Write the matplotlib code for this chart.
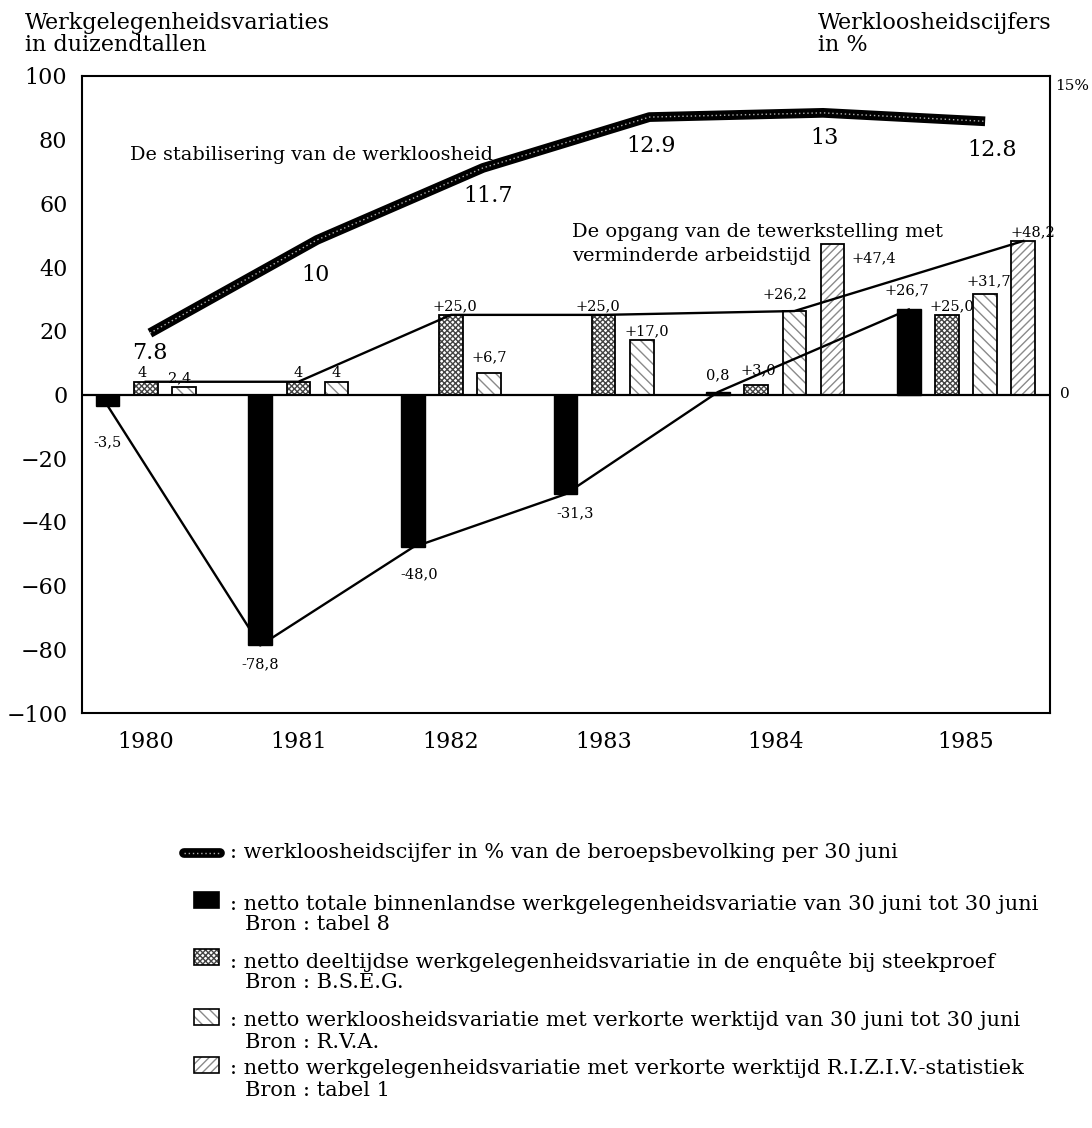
import matplotlib
matplotlib.use('Agg')
import matplotlib.pyplot as plt
import numpy as np
from matplotlib.patches import Rectangle
from matplotlib.lines import Line2D
import matplotlib.transforms as mtransforms

plt.rcParams['font.family'] = ['DejaVu Serif', 'Liberation Serif']
plt.rcParams['hatch.linewidth'] = 1.0

# ---------------- data ----------------
years = ['1980', '1981', '1982', '1983', '1984', '1985']
total_var = [-3.5, -78.8, -48.0, -31.3, 0.8, 26.7]          # netto totale binnenlandse
parttime_var = [4.0, 4.0, 25.0, 25.0, 3.0, 25.0]            # B.S.E.G.
rva_var = [2.4, 4.0, 6.7, 17.0, 26.2, 31.7]                 # R.V.A.
riziv_var = [np.nan, np.nan, np.nan, np.nan, 47.4, 48.2]    # R.I.Z.I.V.
unemployment = [7.8, 10.0, 11.7, 12.9, 13.0, 12.8]          # %

total_lbl = ['-3,5', '-78,8', '-48,0', '-31,3', '0,8', '+26,7']
parttime_lbl = ['4', '4', '+25,0', '+25,0', '+3,0', '+25,0']
rva_lbl = ['2,4', '4', '+6,7', '+17,0', '+26,2', '+31,7']
riziv_lbl = ['', '', '', '', '+47,4', '+48,2']
unemp_lbl = ['7.8', '10', '11.7', '12.9', '13', '12.8']
yticks = [100, 80, 60, 40, 20, 0, -20, -40, -60, -80, -100]

# ---------------- layout ----------------
W, H = 1092, 1128
group_start = np.array([0, 4, 8, 12, 16, 21], dtype=float)
bw = 0.62
x_tot = group_start
x_part = group_start + 1
x_rva = group_start + 2
x_riz = group_start + 3
nbars = np.array([3 if np.isnan(v) else 4 for v in riziv_var])
x_year = group_start + (nbars - 1) / 2.0
unemp_x = [1.11, 5.49, 9.84, 14.2, 18.75, 23.0]

fig = plt.figure(figsize=(W / 100, H / 100), dpi=100)
ax = fig.add_axes([82 / W, 1 - 713 / H, (1050 - 82) / W, (713 - 76) / H])
ax.set_xlim(-0.67, 24.7)
ax.set_ylim(-100, 100)
ax.set_yticks(yticks)
ax.set_yticklabels([str(v).replace('-', '\u2212') for v in yticks])
ax.set_xticks(x_year)
ax.set_xticklabels(years)
ax.tick_params(axis='both', length=0, labelsize=16)
ax.tick_params(axis='y', pad=10.5)
ax.tick_params(axis='x', pad=13)
for s in ax.spines.values():
    s.set_linewidth(1.5)

ax.axhline(0, color='black', lw=1.6, zorder=5)


def hatched(x, h, hatch, hcol):
    ax.bar(x, h, bw, color='white', edgecolor=hcol, hatch=hatch, lw=0, zorder=2)
    ax.bar(x, h, bw, fill=False, edgecolor='black', lw=1.3, zorder=3)


ax.bar(x_tot, total_var, bw, color='black', edgecolor='black', lw=1, zorder=3)
hatched(x_part, parttime_var, 'xxxxxx', '#444444')
hatched(x_rva, rva_var, '\\\\\\', '#8a8a8a')
hatched(x_riz, riziv_var, '////', '#8a8a8a')

# connecting lines
ax.plot(x_tot, total_var, color='black', lw=1.7, zorder=6)
l2x = list(x_part[:4]) + [x_rva[4], x_riz[5]]
l2y = list(parttime_var[:4]) + [rva_var[4], riziv_var[5]]
ax.plot(l2x, l2y, color='black', lw=1.7, zorder=6)

# bar labels (offsets in pixels)
fs_b = 10.5
tot_off = [(0, -30), (0, -12), (6, -20), (10, -12), (0, 10), (-2, 12)]
for x, v, t, o in zip(x_tot, total_var, total_lbl, tot_off):
    ax.annotate(t, (x, v), xytext=o, textcoords='offset pixels',
                ha='center', va='top' if v < 0 else 'bottom', fontsize=fs_b, zorder=7)
part_off = [(-4, 2), (0, 2), (4, 2), (-6, 2), (2, 8), (5, 2)]
for x, v, t, o in zip(x_part, parttime_var, parttime_lbl, part_off):
    ax.annotate(t, (x, v), xytext=o, textcoords='offset pixels', ha='center', va='bottom',
                fontsize=fs_b, zorder=7)
rva_off = [(-4, 2), (0, 2), (0, 9), (5, 2), (-9, 10), (4, 5)]
for x, v, t, o in zip(x_rva, rva_var, rva_lbl, rva_off):
    ax.annotate(t, (x, v), xytext=o, textcoords='offset pixels', ha='center', va='bottom',
                fontsize=fs_b, zorder=7)
riz_off = [(0, 0)] * 4 + [(41, -22), (10, 2)]
for x, v, t, o in zip(x_riz, riziv_var, riziv_lbl, riz_off):
    if t:
        ax.annotate(t, (x, v), xytext=o, textcoords='offset pixels', ha='center', va='bottom',
                    fontsize=fs_b, zorder=7)

# unemployment line on twin axis
ax2 = ax.twinx()
ax2.set_ylim(-1.17, 13.87)
ax2.set_yticks([])
for s in ax2.spines.values():
    s.set_visible(False)
ax2.plot(unemp_x, unemployment, color='black', lw=7, solid_capstyle='butt', zorder=4)
ax2.plot(unemp_x, unemployment, color='#b0b0b0', lw=1.0, ls=(0, (1, 2)), zorder=5)
un_off = [(0, -20), (-2, -35), (5, -28), (2, -29), (2, -25), (7, -29)]
for x, v, t, o in zip(unemp_x, unemployment, unemp_lbl, un_off):
    ax2.annotate(t, (x, v), xytext=o, textcoords='offset pixels', ha='center', va='center',
                 fontsize=16)

# right axis texts
tr = mtransforms.blended_transform_factory(ax.transAxes, ax.transData)
ax.text(1.005, 97, '15%', transform=tr, ha='left', va='center', fontsize=11)
ax.text(1.01, 0, '0', transform=tr, ha='left', va='center', fontsize=11)


def fx(px):
    return px / W


def fy(py):
    return 1 - py / H


# annotations inside plot
fig.text(fx(130), fy(155), 'De stabilisering van de werkloosheid', fontsize=13.9, va='center')
fig.text(fx(572), fy(232), 'De opgang van de tewerkstelling met', fontsize=14, va='center')
fig.text(fx(572), fy(256), 'verminderde arbeidstijd', fontsize=14, va='center')

# axis titles
fig.text(fx(25), fy(23), 'Werkgelegenheidsvariaties', fontsize=16, va='center')
fig.text(fx(25), fy(45), 'in duizendtallen', fontsize=16, va='center')
fig.text(fx(818), fy(23), 'Werkloosheidscijfers', fontsize=16, va='center')
fig.text(fx(818), fy(45), 'in %', fontsize=16, va='center')

# legend
fs_l = 15.0
tx = 230
bx = 245
fig.add_artist(Line2D([fx(184), fx(220)], [fy(853), fy(853)], color='black', lw=7,
                      solid_capstyle='round', transform=fig.transFigure))
fig.add_artist(Line2D([fx(184), fx(220)], [fy(853), fy(853)], color='#b0b0b0', lw=1.0,
                      ls=(0, (1, 2)), transform=fig.transFigure))
fig.text(fx(tx), fy(853), ': werkloosheidscijfer in % van de beroepsbevolking per 30 juni',
         fontsize=fs_l, va='center')

entries = [
    (904, ': netto totale binnenlandse werkgelegenheidsvariatie van 30 juni tot 30 juni',
     'Bron : tabel 8', dict(facecolor='black', hatch=None, hc='black')),
    (961, ': netto deeltijdse werkgelegenheidsvariatie in de enquête bij steekproef',
     'Bron : B.S.E.G.', dict(facecolor='white', hatch='xxxxxx', hc='#444444')),
    (1021, ': netto werkloosheidsvariatie met verkorte werktijd van 30 juni tot 30 juni',
     'Bron : R.V.A.', dict(facecolor='white', hatch='\\\\\\', hc='#8a8a8a')),
    (1069, ': netto werkgelegenheidsvariatie met verkorte werktijd R.I.Z.I.V.-statistiek',
     'Bron : tabel 1', dict(facecolor='white', hatch='////', hc='#8a8a8a')),
]
for y, l1, l2, st in entries:
    r = Rectangle((fx(194), fy(y + 4)), fx(25), 16 / H, transform=fig.transFigure,
                  facecolor=st['facecolor'], edgecolor=st['hc'], hatch=st['hatch'], lw=0)
    fig.add_artist(r)
    fig.add_artist(Rectangle((fx(194), fy(y + 4)), fx(25), 16 / H, transform=fig.transFigure,
                             fill=False, edgecolor='black', lw=1.2))
    fig.text(fx(tx), fy(y), l1, fontsize=fs_l, va='center')
    fig.text(fx(bx), fy(y + 21), l2, fontsize=fs_l, va='center')

fig.savefig('out.png', dpi=100)
